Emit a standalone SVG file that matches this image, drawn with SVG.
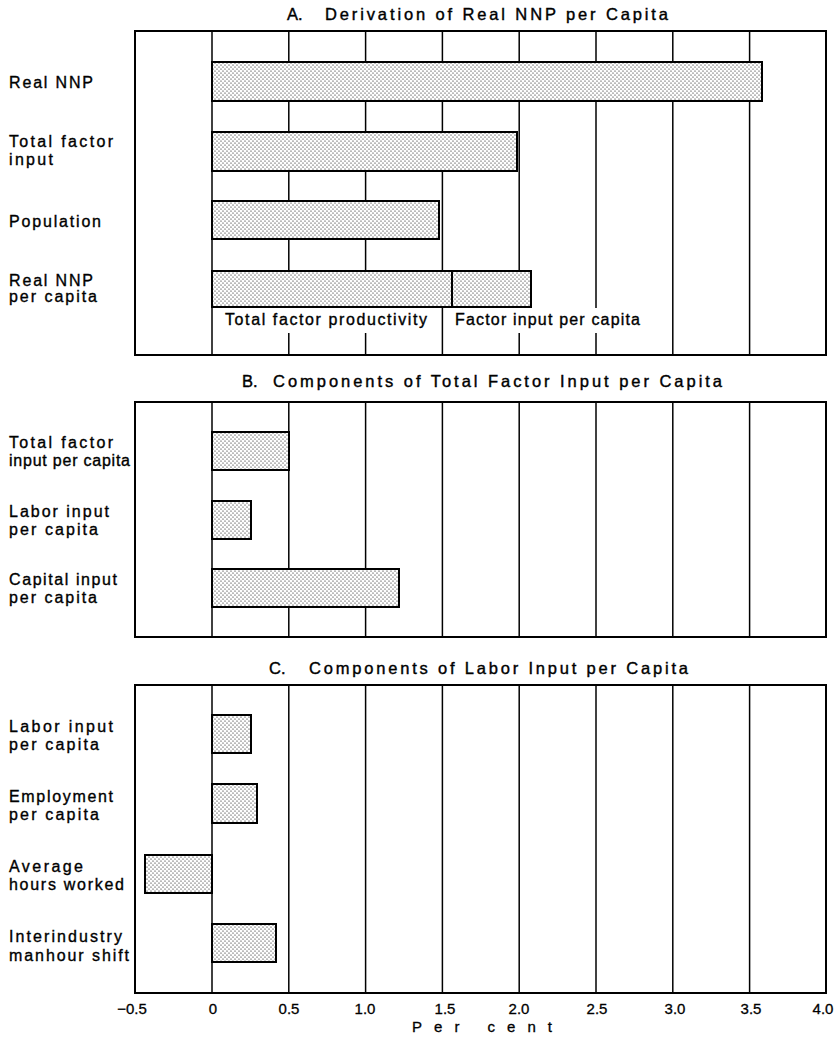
<svg xmlns="http://www.w3.org/2000/svg" width="837" height="1039" viewBox="0 0 837 1039">
<style>
.frame{fill:none;stroke:#000;stroke-width:2}
.grid{stroke:#000;stroke-width:1.5}
.bar{fill:url(#dots);stroke:#000;stroke-width:2}
.lbl{font-family:"Liberation Sans",Arial,sans-serif;font-size:16px;fill:#000;stroke:#000;stroke-width:0.35}
.ttl{font-family:"Liberation Sans",Arial,sans-serif;font-size:16.5px;fill:#000;stroke:#000;stroke-width:0.4}
.ax{font-family:"Liberation Sans",Arial,sans-serif;font-size:15px;fill:#000;stroke:#000;stroke-width:0.3;text-anchor:middle}
</style>
<defs>
<pattern id="dots" width="4" height="4" patternUnits="userSpaceOnUse">
<rect width="4" height="4" fill="#fff"/>
<circle cx="1" cy="1" r="0.6" fill="#000"/>
<circle cx="3" cy="3" r="0.6" fill="#000"/>
</pattern>
</defs>
<rect width="837" height="1039" fill="#fff"/>

<!-- Titles -->
<text class="ttl" y="20"><tspan x="287">A.</tspan><tspan x="325" textLength="343" lengthAdjust="spacing">Derivation of Real NNP per Capita</tspan></text>
<text class="ttl" y="387"><tspan x="242">B.</tspan><tspan x="273" textLength="449" lengthAdjust="spacing">Components of Total Factor Input per Capita</tspan></text>
<text class="ttl" y="674"><tspan x="269">C.</tspan><tspan x="309" textLength="379" lengthAdjust="spacing">Components of Labor Input per Capita</tspan></text>

<!-- Panel A -->
<g id="panelA">
<g id="gridA">
<line class="grid" x1="212" y1="31" x2="212" y2="355"/>
<line class="grid" x1="288.8" y1="31" x2="288.8" y2="355"/>
<line class="grid" x1="365.6" y1="31" x2="365.6" y2="355"/>
<line class="grid" x1="442.4" y1="31" x2="442.4" y2="355"/>
<line class="grid" x1="519.2" y1="31" x2="519.2" y2="355"/>
<line class="grid" x1="596" y1="31" x2="596" y2="355"/>
<line class="grid" x1="672.8" y1="31" x2="672.8" y2="355"/>
<line class="grid" x1="749.6" y1="31" x2="749.6" y2="355"/>
</g>
<rect x="222" y="308" width="210" height="25" fill="#fff"/>
<rect x="450" y="308" width="196" height="25" fill="#fff"/>
<g id="barA-realNNP"><rect class="bar" x="212" y="62" width="550" height="39"/>
<text class="lbl" x="9" y="87.5" textLength="84" lengthAdjust="spacing">Real NNP</text></g>
<g id="barA-tfi"><rect class="bar" x="212" y="132" width="305" height="39"/>
<text class="lbl" x="9" y="146.5" textLength="104" lengthAdjust="spacing">Total factor</text>
<text class="lbl" x="9" y="165" textLength="44" lengthAdjust="spacing">input</text></g>
<g id="barA-pop"><rect class="bar" x="212" y="201" width="227" height="38"/>
<text class="lbl" x="9" y="226.5" textLength="92" lengthAdjust="spacing">Population</text></g>
<g id="barA-nnppc"><rect class="bar" x="212" y="271" width="240" height="36"/>
<rect class="bar" x="452" y="271" width="79" height="36"/>
<text class="lbl" x="9" y="285.5" textLength="84" lengthAdjust="spacing">Real NNP</text>
<text class="lbl" x="9" y="302" textLength="88" lengthAdjust="spacing">per capita</text>
<text class="lbl" x="225" y="325" textLength="202" lengthAdjust="spacing">Total factor productivity</text>
<text class="lbl" x="455" y="325" textLength="185" lengthAdjust="spacing">Factor input per capita</text></g>
<rect class="frame" x="135" y="31" width="691" height="324"/>
</g>

<!-- Panel B -->
<g id="panelB">
<g id="gridB">
<line class="grid" x1="212" y1="402" x2="212" y2="637"/>
<line class="grid" x1="288.8" y1="402" x2="288.8" y2="637"/>
<line class="grid" x1="365.6" y1="402" x2="365.6" y2="637"/>
<line class="grid" x1="442.4" y1="402" x2="442.4" y2="637"/>
<line class="grid" x1="519.2" y1="402" x2="519.2" y2="637"/>
<line class="grid" x1="596" y1="402" x2="596" y2="637"/>
<line class="grid" x1="672.8" y1="402" x2="672.8" y2="637"/>
<line class="grid" x1="749.6" y1="402" x2="749.6" y2="637"/>
</g>
<g id="barB-tfipc"><rect class="bar" x="212" y="432" width="77" height="38"/>
<text class="lbl" x="9" y="448" textLength="104" lengthAdjust="spacing">Total factor</text>
<text class="lbl" x="9" y="466" textLength="121" lengthAdjust="spacing">input per capita</text></g>
<g id="barB-labor"><rect class="bar" x="212" y="501" width="39" height="38"/>
<text class="lbl" x="9" y="517" textLength="100" lengthAdjust="spacing">Labor input</text>
<text class="lbl" x="9" y="535" textLength="89" lengthAdjust="spacing">per capita</text></g>
<g id="barB-capital"><rect class="bar" x="212" y="569" width="187" height="38"/>
<text class="lbl" x="9" y="585" textLength="108" lengthAdjust="spacing">Capital input</text>
<text class="lbl" x="9" y="603" textLength="88" lengthAdjust="spacing">per capita</text></g>
<rect class="frame" x="135" y="402" width="691" height="235"/>
</g>

<!-- Panel C -->
<g id="panelC">
<g id="gridC">
<line class="grid" x1="212" y1="685" x2="212" y2="993"/>
<line class="grid" x1="288.8" y1="685" x2="288.8" y2="993"/>
<line class="grid" x1="365.6" y1="685" x2="365.6" y2="993"/>
<line class="grid" x1="442.4" y1="685" x2="442.4" y2="993"/>
<line class="grid" x1="519.2" y1="685" x2="519.2" y2="993"/>
<line class="grid" x1="596" y1="685" x2="596" y2="993"/>
<line class="grid" x1="672.8" y1="685" x2="672.8" y2="993"/>
<line class="grid" x1="749.6" y1="685" x2="749.6" y2="993"/>
</g>
<g id="barC-labor"><rect class="bar" x="212" y="715" width="39" height="38"/>
<text class="lbl" x="9" y="732" textLength="104" lengthAdjust="spacing">Labor input</text>
<text class="lbl" x="9" y="750" textLength="90" lengthAdjust="spacing">per capita</text></g>
<g id="barC-employment"><rect class="bar" x="212" y="784" width="45" height="39"/>
<text class="lbl" x="9" y="802" textLength="104" lengthAdjust="spacing">Employment</text>
<text class="lbl" x="9" y="820" textLength="90" lengthAdjust="spacing">per capita</text></g>
<g id="barC-hours"><rect class="bar" x="145" y="855" width="67" height="38"/>
<text class="lbl" x="9" y="872" textLength="74" lengthAdjust="spacing">Average</text>
<text class="lbl" x="9" y="890" textLength="115" lengthAdjust="spacing">hours worked</text></g>
<g id="barC-shift"><rect class="bar" x="212" y="924" width="64" height="38"/>
<text class="lbl" x="9" y="942" textLength="113" lengthAdjust="spacing">Interindustry</text>
<text class="lbl" x="9" y="961" textLength="120" lengthAdjust="spacing">manhour shift</text></g>
<rect class="frame" x="135" y="685" width="691" height="308"/>
</g>

<!-- Axis -->
<g id="axis">
<text class="ax" x="132" y="1013.5">−0.5</text>
<text class="ax" x="213" y="1013.5">0</text>
<text class="ax" x="289" y="1013.5">0.5</text>
<text class="ax" x="365" y="1013.5">1.0</text>
<text class="ax" x="445" y="1013.5">1.5</text>
<text class="ax" x="519" y="1013.5">2.0</text>
<text class="ax" x="597" y="1013.5">2.5</text>
<text class="ax" x="675" y="1013.5">3.0</text>
<text class="ax" x="751" y="1013.5">3.5</text>
<text class="ax" x="823" y="1013.5">4.0</text>
<text x="412" y="1031.5" font-family="Liberation Sans, Arial, sans-serif" font-size="15" stroke="#000" stroke-width="0.3" textLength="140" lengthAdjust="spacing">Per cent</text>
</g>
</svg>
